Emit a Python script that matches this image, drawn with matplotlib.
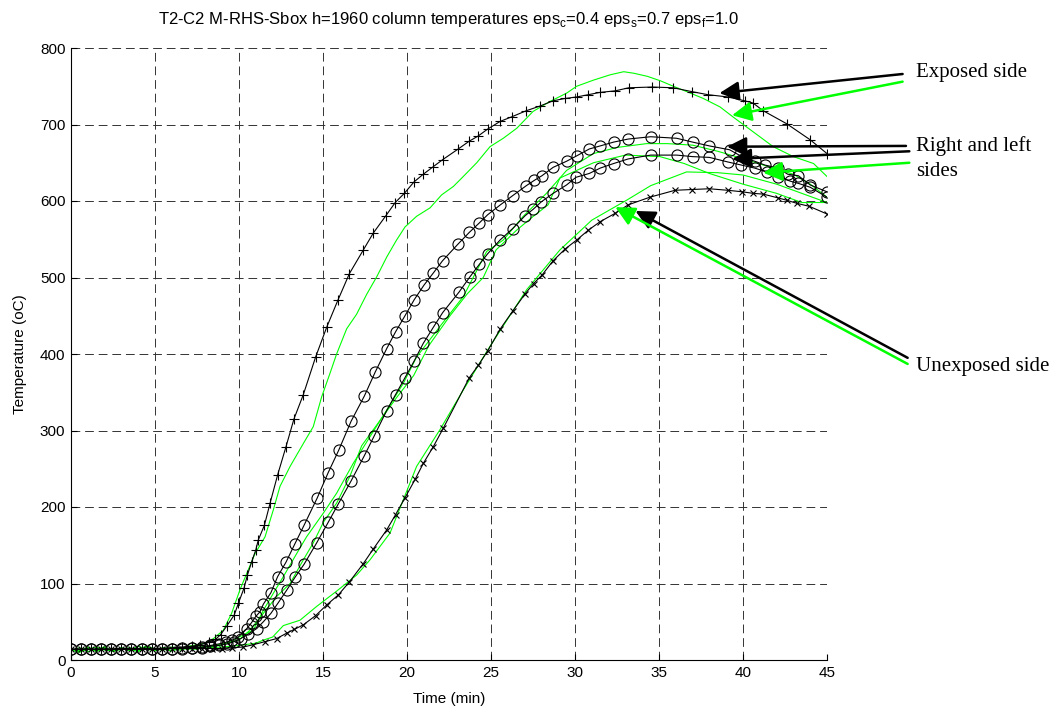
import matplotlib
matplotlib.use("Agg")
import matplotlib.pyplot as plt
from matplotlib.patches import FancyArrowPatch

# ---------------- data ----------------
title = "T2-C2 M-RHS-Sbox h=1960 column temperatures eps$_\\mathregular{c}$=0.4 eps$_\\mathregular{s}$=0.7 eps$_\\mathregular{f}$=1.0"
x_label = "Time (min)"
y_label = "Temperature (oC)"
x_ticks = [0, 5, 10, 15, 20, 25, 30, 35, 40, 45]
y_ticks = [0, 100, 200, 300, 400, 500, 600, 700, 800]

# model (black) curves
exp_t = [0, 0.6, 1.2, 1.8, 2.4, 3.0, 3.6, 4.2, 4.8, 5.4, 6.0, 6.6, 7.2, 7.7, 8.2, 8.6, 8.9, 9.26, 9.72, 9.96, 10.3, 10.5,
         10.75, 11.0, 11.15, 11.51, 11.85, 12.30, 12.80, 13.27, 13.83, 14.56, 15.22, 15.88, 16.57, 17.40, 17.99,
         18.75, 19.30, 19.84, 20.42, 20.97, 21.57, 22.12, 23.05, 23.69, 24.24, 24.80, 25.54, 26.23, 27.1, 27.9,
         28.7, 29.4, 30.1, 30.8, 31.5, 32.4, 33.2, 34.6, 35.85, 36.95, 37.9, 39.1, 40.1, 40.6, 41.2, 42.6, 44.0, 45.0]
exp_T = [14, 14, 14, 14, 14, 15, 15, 15, 15, 15, 16, 17, 18, 20, 23, 27, 33, 44, 59, 74, 94, 111,
         128, 144, 157, 176, 205, 242, 279, 315, 347, 396, 435, 470, 505, 536, 558,
         581, 598, 610, 625, 635, 645, 654, 668, 678, 685, 694, 704, 710, 718, 724,
         731, 734, 736, 739, 742, 744, 748, 749, 748, 743, 739, 736, 731, 728, 718, 701, 680, 662]

right_t = [0, 0.6, 1.2, 1.8, 2.4, 3.0, 3.6, 4.2, 4.8, 5.4, 6.0, 6.6, 7.2, 7.8, 8.3, 8.8, 9.2, 9.6, 9.96, 10.46,
           10.75, 11.0, 11.25, 11.45, 11.9, 12.3, 12.8, 13.33, 13.87, 14.66, 15.31, 15.93, 16.67, 17.46, 18.1,
           18.79, 19.32, 19.88, 20.43, 21.01, 21.57, 22.12, 23.05, 23.71, 24.29, 24.80, 25.56, 26.29, 27.1,
           27.58, 28.03, 28.7, 29.5, 30.1, 30.85, 31.5, 32.3, 33.17, 34.5, 36.05, 37.0, 38.0, 39.2, 40.1,
           40.7, 41.3, 42.1, 42.66, 43.3, 44.0, 45.0]
right_T = [14, 14, 14, 14, 14, 15, 15, 15, 15, 15, 15, 16, 16, 17, 19, 21, 23, 26, 30, 41,
           49, 57, 63, 73, 88, 109, 128, 152, 176, 212, 245, 274, 312, 345, 376,
           407, 429, 450, 471, 490, 506, 522, 544, 559, 571, 582, 595, 607, 620,
           627, 633, 644, 652, 659, 668, 672, 677, 681, 684, 682, 677, 672, 667, 656,
           652, 647, 643, 635, 633, 621, 612]

left_t = [0, 0.6, 1.2, 1.8, 2.4, 3.0, 3.6, 4.2, 4.8, 5.4, 6.0, 6.6, 7.2, 7.8, 8.3, 8.8, 9.3, 9.7, 10.1, 10.55,
          11.05, 11.45, 11.9, 12.34, 12.83, 13.33, 13.87, 14.62, 15.31, 15.91, 16.67, 17.46, 18.05, 18.79,
          19.32, 19.88, 20.43, 20.97, 21.57, 22.12, 23.1, 23.75, 24.30, 24.80, 25.54, 26.29, 27.04, 27.5,
          28.0, 28.7, 29.5, 30.06, 30.85, 31.5, 32.3, 33.17, 34.5, 36.05, 37.0, 38.0, 39.1, 39.9, 40.7,
          41.4, 42.1, 42.8, 43.3, 44.0, 45.0]
left_T = [14, 14, 14, 14, 14, 15, 15, 15, 15, 15, 15, 15, 16, 16, 18, 19, 21, 24, 28, 34,
          41, 50, 61, 75, 91, 108, 125, 153, 180, 204, 234, 267, 293, 326,
          347, 369, 391, 414, 435, 454, 481, 501, 517, 531, 549, 564, 581, 589,
          599, 610, 621, 631, 636, 643, 649, 655, 660, 660, 658, 657, 651, 647, 643,
          638, 632, 626, 623, 618, 605]

unexp_t = [0, 0.6, 1.2, 1.8, 2.4, 3.0, 3.6, 4.2, 4.8, 5.4, 6.0, 6.6, 7.2, 7.8, 8.4, 9.0, 9.6, 10.26, 10.85,
           11.55, 12.24, 12.83, 13.29, 13.83, 14.56, 15.22, 15.91, 16.57, 17.40, 17.99, 18.79, 19.32, 19.88,
           20.48, 20.97, 21.57, 22.16, 23.71, 24.24, 24.80, 25.56, 26.29, 27.04, 27.53, 28.03, 28.7, 29.4,
           30.1, 30.8, 31.5, 32.4, 33.17, 34.46, 35.95, 36.95, 38.0, 39.1, 39.97, 40.6, 41.2, 42.1, 42.6,
           43.2, 43.95, 45.0]
unexp_T = [14, 14, 14, 14, 14, 14, 14, 15, 15, 15, 15, 15, 15, 15, 15, 15, 16, 17, 20,
           24, 28, 35, 40, 46, 58, 72, 85, 102, 126, 145, 170, 190, 212,
           236, 257, 279, 303, 369, 385, 404, 433, 456, 479, 492, 503, 522, 537,
           549, 562, 573, 584, 595, 605, 614, 615, 616, 614, 612, 610, 609, 604, 601,
           597, 593, 583]

# test (green) curves
g_exp_t = [0, 0.5, 1.0, 1.5, 2.0, 2.5, 3.0, 3.5, 4.0, 4.5, 5.0, 5.5, 6.0, 6.5, 7.0, 7.5, 8.0, 8.48, 9.07,
           9.56, 10.06, 10.46, 10.95, 11.55, 12.04, 12.44, 13.04, 13.83, 14.42, 14.92, 15.42, 15.81, 16.41,
           17.0, 17.6, 18.2, 18.8, 19.38, 19.88, 20.57, 21.37, 22.06, 22.76, 23.35, 24.15, 24.94, 25.73,
           26.53, 27.5, 28.5, 29.5, 30.1, 31.1, 32.1, 32.9, 33.5, 34.3, 35.1, 35.85, 36.65, 37.64, 38.63,
           39.4, 40.2, 41.0, 41.8, 43.0, 44.2, 45.0]
g_exp_T = [13, 10, 15, 12, 17, 11, 14, 16, 12, 18, 14, 13, 17, 15, 18, 20, 22, 28, 39,
           61, 92, 113, 139, 161, 196, 227, 253, 283, 305, 344, 375, 400, 433,
           452, 478, 501, 527, 549, 566, 580, 591, 608, 619, 632, 650, 671, 682,
           695, 717, 730, 741, 750, 758, 765, 769, 767, 763, 757, 750, 743, 734, 723,
           710, 697, 684, 671, 658, 649, 632]

g_right_t = [0, 0.5, 1.0, 1.5, 2.0, 2.5, 3.0, 3.5, 4.0, 4.5, 5.0, 5.5, 6.0, 6.5, 7.0, 7.5, 8.0, 8.5, 9.0,
             9.5, 10.0, 10.85, 11.45, 12.04, 12.64, 13.43, 14.02, 15.02, 15.81, 16.8, 17.8, 18.8, 19.79,
             20.57, 21.96, 23.35, 24.74, 25.73, 26.92, 28.3, 29.5, 31.1, 32.5, 34.26, 35.5, 37.0, 38.5,
             40.2, 41.5, 43.0, 44.0, 45.0]
g_right_T = [12, 16, 11, 14, 17, 12, 15, 13, 18, 14, 12, 16, 15, 13, 17, 16, 18, 18, 20,
             24, 30, 39, 65, 87, 109, 139, 161, 192, 218, 257, 292, 327, 362,
             396, 436, 475, 534, 549, 580, 610, 640, 662, 670, 675, 675, 673, 665,
             654, 645, 635, 622, 605]

g_left_t = [0, 0.5, 1.0, 1.5, 2.0, 2.5, 3.0, 3.5, 4.0, 4.5, 5.0, 5.5, 6.0, 6.5, 7.0, 7.5, 8.0, 8.5, 9.0,
            9.5, 10.0, 10.65, 11.45, 12.24, 13.04, 13.83, 14.42, 15.02, 15.81, 16.6, 17.3, 18.39, 19.38,
            20.4, 21.3, 22.56, 23.6, 24.54, 25.3, 26.53, 27.52, 28.4, 29.1, 31.1, 33.0, 35.06, 36.5, 38.0,
            40.0, 42.0, 43.5, 45.0]
g_left_T = [15, 11, 14, 17, 13, 12, 16, 14, 11, 17, 15, 14, 12, 16, 15, 14, 17, 19, 21,
            23, 26, 39, 61, 83, 100, 131, 153, 180, 205, 240, 280, 313, 343,
            372, 411, 450, 479, 500, 536, 562, 580, 595, 630, 650, 660, 658, 649, 636,
            622, 610, 598, 598]

g_unexp_t = [0, 0.5, 1.0, 1.5, 2.0, 2.5, 3.0, 3.5, 4.0, 4.5, 5.0, 5.5, 6.0, 6.5, 7.0, 7.5, 8.0, 9.0, 10.0,
             11.0, 11.45, 12.0, 12.64, 13.63, 14.62, 15.81, 17.0, 17.8, 18.99, 19.79, 20.57, 21.96, 23.35,
             24.94, 27.12, 29.1, 31.0, 33.07, 34.5, 36.64, 38.5, 40.0, 42.0, 43.5, 45.0]
g_unexp_T = [14, 12, 17, 11, 15, 13, 16, 12, 14, 18, 13, 16, 12, 15, 14, 17, 16, 17, 19,
             22, 26, 30, 45, 52, 70, 90, 111, 131, 166, 210, 253, 301, 353,
             410, 484, 536, 575, 601, 620, 638, 637, 634, 622, 610, 598]

# annotation labels
lbl_exposed = "Exposed side"
lbl_rl1 = "Right and left"
lbl_rl2 = "sides"
lbl_unexp = "Unexposed side"

# ---------------- figure ----------------
plt.rcParams['font.family'] = ['Liberation Sans', 'DejaVu Sans']
W, H = 1063, 711
fig = plt.figure(figsize=(W / 100, H / 100), dpi=100)
ax = fig.add_axes([71 / W, 51 / H, 756 / W, 612 / H])

green = '#00ff00'
lw = 0.8
ax.plot(g_exp_t, g_exp_T, color=green, lw=lw, zorder=2)
ax.plot(g_right_t, g_right_T, color=green, lw=lw, zorder=2)
ax.plot(g_left_t, g_left_T[:len(g_left_t)], color=green, lw=lw, zorder=2)
ax.plot(g_unexp_t, g_unexp_T, color=green, lw=lw, zorder=2)

ax.plot(exp_t, exp_T, color='black', lw=lw, marker='+', ms=7, mew=0.8, zorder=3)
ax.plot(right_t, right_T, color='black', lw=lw, marker='o', ms=8, mfc='none', mew=0.8, zorder=3)
ax.plot(left_t, left_T, color='black', lw=lw, marker='o', ms=8, mfc='none', mew=0.8, zorder=3)
ax.plot(unexp_t, unexp_T, color='black', lw=lw, marker='x', ms=5, mew=0.8, zorder=3)

ax.set_xlim(0, 45)
ax.set_ylim(0, 800)
ax.set_xticks(x_ticks)
ax.set_yticks(y_ticks)
ax.tick_params(direction='in', length=4, width=0.8, labelsize=11, colors='black', pad=4)
ax.grid(True, color='#333333', linestyle=(0, (9, 5)), linewidth=0.7)
ax.set_axisbelow(True)
for s in ['top', 'right']:
    ax.spines[s].set_visible(False)
for s in ['left', 'bottom']:
    ax.spines[s].set_linewidth(0.8)
    ax.spines[s].set_zorder(4)

ax.set_title(title, fontsize=12, pad=17)
ax.set_xlabel(x_label, fontsize=11, labelpad=9)
ax.set_ylabel(y_label, fontsize=11, labelpad=9)

# arrows: (tail_x, tail_y) -> (tip_x, tip_y), data coords
arrows = [
    ((49.5, 766), (38.6, 741), 'black'),
    ((49.5, 756), (39.35, 712), green),
    ((49.7, 672), (39.05, 671), 'black'),
    ((49.9, 665), (39.35, 655), 'black'),
    ((49.9, 650), (41.2, 637), green),
    ((49.8, 395), (33.6, 587), 'black'),
    ((49.8, 387), (32.4, 592), green),
]
for (tx, ty), (hx, hy), c in arrows:
    arr = FancyArrowPatch((tx, ty), (hx, hy), arrowstyle='-|>,head_length=0.9,head_width=0.45',
                          mutation_scale=13, color=c, lw=1.8, shrinkA=0, shrinkB=0,
                          clip_on=False, zorder=5)
    ax.add_patch(arr)

tfont = dict(family=['Liberation Serif', 'DejaVu Serif'], fontsize=15, va='center', ha='left',
             clip_on=False)
ax.text(50.3, 768, lbl_exposed, **tfont)
ax.text(50.3, 672, lbl_rl1, **tfont)
ax.text(50.3, 639, lbl_rl2, **tfont)
ax.text(50.3, 384, lbl_unexp, **tfont)

fig.savefig('out.png', dpi=100)
